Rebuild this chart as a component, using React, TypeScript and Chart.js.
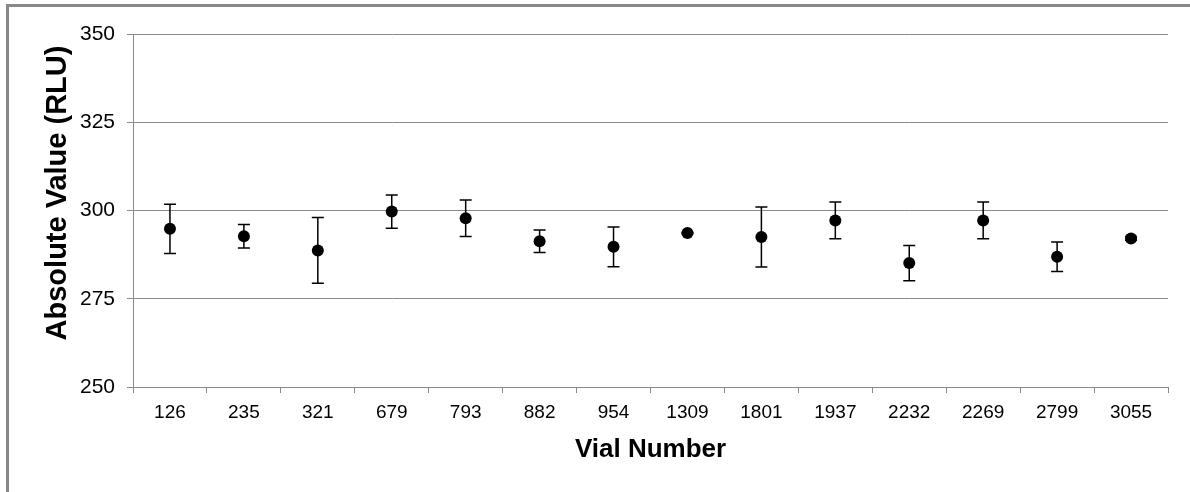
import React, { useEffect, useRef } from "react";
import { Chart, registerables } from "chart.js";

Chart.register(...registerables);

const categories = ["126", "235", "321", "679", "793", "882", "954", "1309", "1801", "1937", "2232", "2269", "2799", "3055"];
const means = [294.8, 292.7, 288.7, 299.7, 297.8, 291.3, 289.7, 293.6, 292.5, 297.2, 285.1, 297.2, 286.9, 292.1];
const errors = [7.0, 3.3, 9.3, 4.7, 5.2, 3.2, 5.6, 0.2, 8.5, 5.2, 5.0, 5.2, 4.2, 0.5];
const yMin = 250;
const yMax = 350;
const yStep = 25;
const xTitle = "Vial Number";
const yTitle = "Absolute Value (RLU)";

const FONT = '"Liberation Sans", Arial, sans-serif';
const GRID = "#8a8a8a";

const errorBarPlugin = {
  id: "errorBars",
  beforeDatasetsDraw(chart: any) {
    const ctx = chart.ctx;
    const xs = chart.scales.x;
    const ys = chart.scales.y;
    ctx.save();
    ctx.strokeStyle = "#000";
    ctx.lineWidth = 1.5;
    means.forEach((m, i) => {
      const e = errors[i];
      const x = xs.getPixelForValue(i);
      const yt = ys.getPixelForValue(m + e);
      const yb = ys.getPixelForValue(m - e);
      ctx.beginPath();
      ctx.moveTo(x, yt);
      ctx.lineTo(x, yb);
      ctx.moveTo(x - 6, yt);
      ctx.lineTo(x + 6, yt);
      ctx.moveTo(x - 6, yb);
      ctx.lineTo(x + 6, yb);
      ctx.stroke();
    });
    ctx.restore();
  },
};

const titlesPlugin = {
  id: "axisTitles",
  afterDraw(chart: any) {
    const ctx = chart.ctx;
    const a = chart.chartArea;
    ctx.save();
    ctx.fillStyle = "#000";
    ctx.font = `bold 26px ${FONT}`;
    ctx.textAlign = "center";
    ctx.textBaseline = "alphabetic";
    ctx.fillText(xTitle, (a.left + a.right) / 2, 457);
    ctx.translate(66, 193);
    ctx.rotate(-Math.PI / 2);
    ctx.font = `bold 29px ${FONT}`;
    ctx.fillText(yTitle, 0, 0);
    ctx.restore();
  },
};

export default function App() {
  const ref = useRef<HTMLCanvasElement | null>(null);
  useEffect(() => {
    if (!ref.current) return;
    const chart = new Chart(ref.current, {
      type: "line",
      data: {
        labels: categories,
        datasets: [
          {
            data: means,
            showLine: false,
            pointRadius: 6,
            pointHoverRadius: 6,
            pointBackgroundColor: "#000",
            pointBorderColor: "#000",
            pointBorderWidth: 0,
          },
        ],
      },
      options: {
        responsive: false,
        animation: false,
        layout: { padding: { top: 34, right: 22, left: 0, bottom: 0 } },
        plugins: { legend: { display: false }, tooltip: { enabled: false } },
        scales: {
          x: {
            type: "category",
            offset: true,
            grid: {
              offset: true,
              drawOnChartArea: false,
              drawTicks: true,
              tickLength: 6,
              color: GRID,
              lineWidth: 1,
            },
            border: { display: true, color: GRID, width: 1 },
            ticks: {
              color: "#000",
              font: { family: FONT, size: 19 },
              padding: 8,
              maxRotation: 0,
              autoSkip: false,
            },
            afterFit(scale: any) {
              scale.height = 105;
            },
          },
          y: {
            min: yMin,
            max: yMax,
            grid: {
              color: GRID,
              lineWidth: 1,
              drawTicks: true,
              tickLength: 6,
            },
            border: { display: true, color: GRID, width: 1 },
            ticks: {
              stepSize: yStep,
              color: "#000",
              font: { family: FONT, size: 21 },
              padding: 12,
            },
            afterFit(scale: any) {
              scale.width = 133;
            },
          },
        },
      },
      plugins: [errorBarPlugin, titlesPlugin],
    });
    return () => chart.destroy();
  }, []);

  return (
    <div style={{ position: "fixed", left: 0, top: 0, width: 1190, height: 492, overflow: "hidden", background: "#fff" }}>
      <div
        style={{
          position: "absolute",
          left: 6,
          top: 4,
          width: 1300,
          height: 600,
          borderLeft: "3px solid #888",
          borderTop: "3px solid #888",
        }}
      />
      <canvas ref={ref} width={1190} height={492} style={{ position: "absolute", left: 0, top: 0, display: "block" }} />
    </div>
  );
}
